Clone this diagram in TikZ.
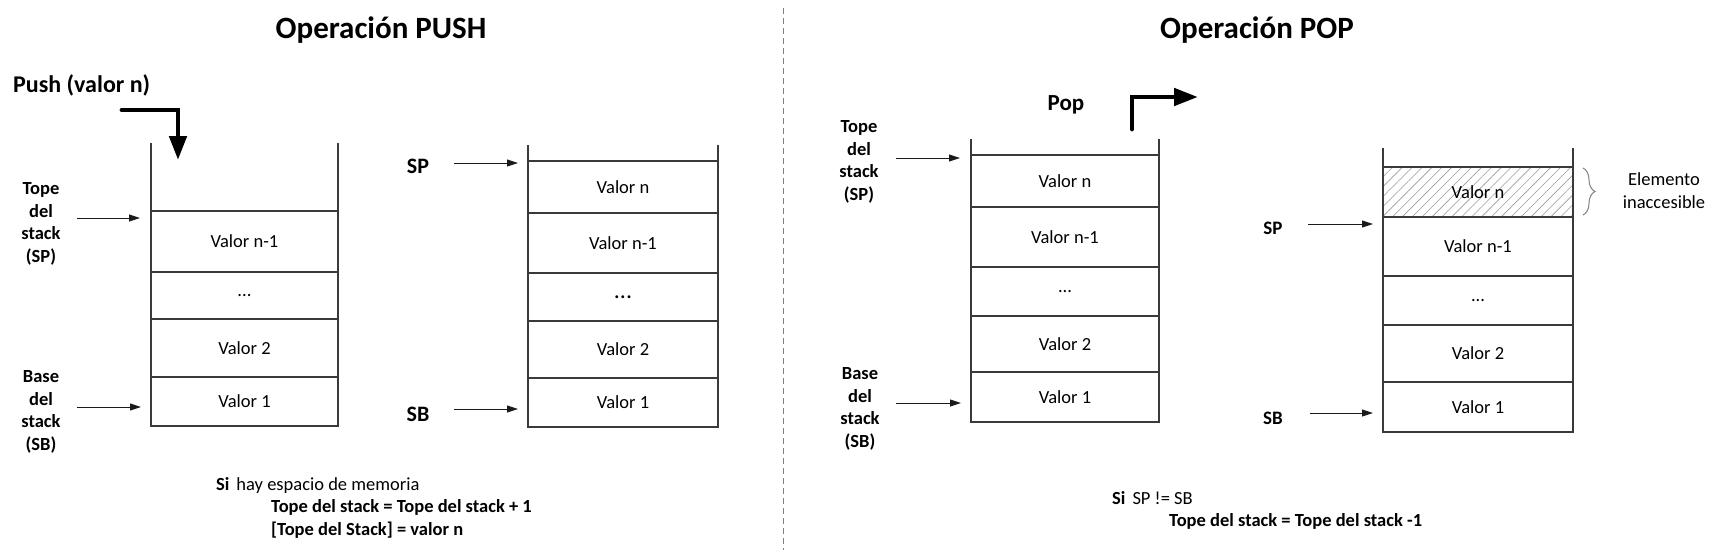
\documentclass[tikz,border=0pt]{standalone}
\usepackage{fontspec}
\setmainfont{Carlito}
\usetikzlibrary{arrows.meta,patterns.meta,decorations.pathreplacing}
\definecolor{linecol}{HTML}{3A3A3A}
\definecolor{ptrcol}{HTML}{1A1A1A}
\definecolor{hatchcol}{HTML}{9A9A9A}
\newcommand{\valfont}{\fontsize{18.5}{22}\selectfont}
\newcommand{\labfont}{\fontsize{18.5}{22.5}\selectfont\bfseries}
\tikzset{
  cell/.style={draw=linecol, line width=1.3pt, inner sep=0pt, outer sep=0pt,
    anchor=north west, font=\valfont},
  cellA/.style={cell, minimum width=187pt},
  cellB/.style={cell, minimum width=190pt},
  cellC/.style={cell, minimum width=188pt},
  openside/.style={draw=linecol, line width=1.3pt},
  ptr/.style={draw=ptrcol, line width=0.9pt, -{Triangle[length=11pt,width=7pt]}},
  bigarrow/.style={draw=black, line width=4.8pt, line cap=round, line join=miter,
    -{Triangle[length=24pt,width=17pt]}},
  title/.style={font=\fontsize{31}{36}\selectfont\bfseries, inner sep=0pt},
  sidelabel/.style={font=\labfont, align=center, inner sep=0pt},
  regtext/.style={font=\valfont, inner sep=0pt, anchor=base west},
  boldtext/.style={font=\valfont\bfseries, inner sep=0pt, anchor=west},
  divider/.style={draw=gray, line width=1pt, dash pattern=on 6pt off 4pt},
  bracestyle/.style={draw=gray, line width=1pt, decorate,
    decoration={brace, amplitude=12pt}},
  hatched/.style={pattern={Lines[angle=45, distance=7pt, line width=0.6pt]},
    pattern color=hatchcol}
}
\begin{document}
\begin{tikzpicture}[x=1pt, y=-1pt]
\useasboundingbox (0,0) rectangle (1716,550);

% ---------- divider ----------
\coordinate (dtop) at (783,8);
\coordinate (dbot) at (783,550);
\draw[divider] (dtop) -- (dbot);

% ---------- titles ----------
\node[title] (tpush) at (381,30) {Operación PUSH};
\node[title] (tpop) at (1257,30) {Operación POP};

% ---------- PUSH: stack 1 ----------
\node[cellA, minimum height=61pt] (s1a) at (151,211) {Valor n-1};
\node[cellA, minimum height=47pt] (s1b) at (151,272) {...};
\node[cellA, minimum height=58pt] (s1c) at (151,319) {Valor 2};
\node[cellA, minimum height=49pt] (s1d) at (151,377) {Valor 1};
\coordinate (s1top) at (0,143);
\draw[openside] (s1a.north west) -- (s1a.north west |- s1top);
\draw[openside] (s1a.north east) -- (s1a.north east |- s1top);

\node[font=\fontsize{24}{28}\selectfont\bfseries, inner sep=0pt, anchor=west] (pushlab) at (13,85) {Push (valor n)};
\coordinate (pa1) at (122,110);
\coordinate (pa2) at (178,110);
\coordinate (pa3) at (178,160);
\draw[bigarrow] (pa1) -- (pa2) -- (pa3);

\node[sidelabel] (tope1) at (41,224) {Tope\\del\\stack\\(SP)};
\node[sidelabel] (base1) at (41,412) {Base\\del\\stack\\(SB)};
\coordinate (t1s) at (77,218);
\coordinate (t1e) at (140,218);
\draw[ptr] (t1s) -- (t1e);
\coordinate (b1s) at (77,407);
\coordinate (b1e) at (141,407);
\draw[ptr] (b1s) -- (b1e);

% ---------- PUSH: stack 2 ----------
\node[cellB, minimum height=52pt] (s2a) at (528,161) {Valor n};
\node[cellB, minimum height=60pt] (s2b) at (528,213) {Valor n-1};
\node[cellB, minimum height=48pt, font=\fontsize{24}{28}\selectfont] (s2c) at (528,273) {...};
\node[cellB, minimum height=57pt] (s2d) at (528,321) {Valor 2};
\node[cellB, minimum height=49pt] (s2e) at (528,378) {Valor 1};
\coordinate (s2top) at (0,145);
\draw[openside] (s2a.north west) -- (s2a.north west |- s2top);
\draw[openside] (s2a.north east) -- (s2a.north east |- s2top);

\node[font=\fontsize{22}{26}\selectfont\bfseries, inner sep=0pt] (sp2) at (418,166) {SP};
\node[font=\fontsize{22}{26}\selectfont\bfseries, inner sep=0pt] (sb2) at (418,414) {SB};
\coordinate (sp2s) at (454,163);
\coordinate (sp2e) at (518,163);
\draw[ptr] (sp2s) -- (sp2e);
\coordinate (sb2s) at (454,409);
\coordinate (sb2e) at (518,409);
\draw[ptr] (sb2s) -- (sb2e);

\node[regtext] (push1) at (216,490) {\textbf{Si}\hspace{7pt}hay espacio de memoria};
\node[boldtext] (push2) at (271,507) {Tope del stack = Tope del stack + 1};
\node[boldtext] (push3) at (271,530) {[Tope del Stack] = valor n};

% ---------- POP: stack 3 ----------
\node[cellC, minimum height=52pt] (s3a) at (971,155) {Valor n};
\node[cellC, minimum height=60pt] (s3b) at (971,207) {Valor n-1};
\node[cellC, minimum height=49pt] (s3c) at (971,267) {...};
\node[cellC, minimum height=56pt] (s3d) at (971,316) {Valor 2};
\node[cellC, minimum height=50pt] (s3e) at (971,372) {Valor 1};
\coordinate (s3top) at (0,139);
\draw[openside] (s3a.north west) -- (s3a.north west |- s3top);
\draw[openside] (s3a.north east) -- (s3a.north east |- s3top);

\node[font=\fontsize{23}{27}\selectfont\bfseries, inner sep=0pt] (poplab) at (1066,105) {Pop};
\coordinate (qa1) at (1132,129);
\coordinate (qa2) at (1132,97);
\coordinate (qa3) at (1198,97);
\draw[bigarrow] (qa1) -- (qa2) -- (qa3);

\node[sidelabel] (tope3) at (859,162) {Tope\\del\\stack\\(SP)};
\node[sidelabel] (base3) at (860,409) {Base\\del\\stack\\(SB)};
\coordinate (t3s) at (896,158);
\coordinate (t3e) at (960,158);
\draw[ptr] (t3s) -- (t3e);
\coordinate (b3s) at (896,403);
\coordinate (b3e) at (961,403);
\draw[ptr] (b3s) -- (b3e);

% ---------- POP: stack 4 ----------
\node[cellB, minimum height=50pt, hatched] (s4a) at (1383,167) {Valor n};
\node[cellB, minimum height=59pt] (s4b) at (1383,217) {Valor n-1};
\node[cellB, minimum height=49pt] (s4c) at (1383,276) {...};
\node[cellB, minimum height=57pt] (s4d) at (1383,325) {Valor 2};
\node[cellB, minimum height=50pt] (s4e) at (1383,382) {Valor 1};
\coordinate (s4top) at (0,148);
\draw[openside] (s4a.north west) -- (s4a.north west |- s4top);
\draw[openside] (s4a.north east) -- (s4a.north east |- s4top);

\node[font=\fontsize{19}{23}\selectfont\bfseries, inner sep=0pt] (sp4) at (1273,228) {SP};
\node[font=\fontsize{19}{23}\selectfont\bfseries, inner sep=0pt] (sb4) at (1273,418) {SB};
\coordinate (sp4s) at (1308,224);
\coordinate (sp4e) at (1373,224);
\draw[ptr] (sp4s) -- (sp4e);
\coordinate (sb4s) at (1310,413);
\coordinate (sb4e) at (1373,413);
\draw[ptr] (sb4s) -- (sb4e);

\coordinate (brt) at (1583,168);
\coordinate (brb) at (1583,215);
\draw[bracestyle] (brt) -- (brb);
\node[font=\fontsize{18.5}{23}\selectfont, align=center, inner sep=0pt] (inacc) at (1664,191) {Elemento\\inaccesible};

\node[regtext] (pop1) at (1112,504) {\textbf{Si}\hspace{7pt}SP != SB};
\node[boldtext] (pop2) at (1169,521) {Tope del stack = Tope del stack -1};
\end{tikzpicture}
\end{document}
